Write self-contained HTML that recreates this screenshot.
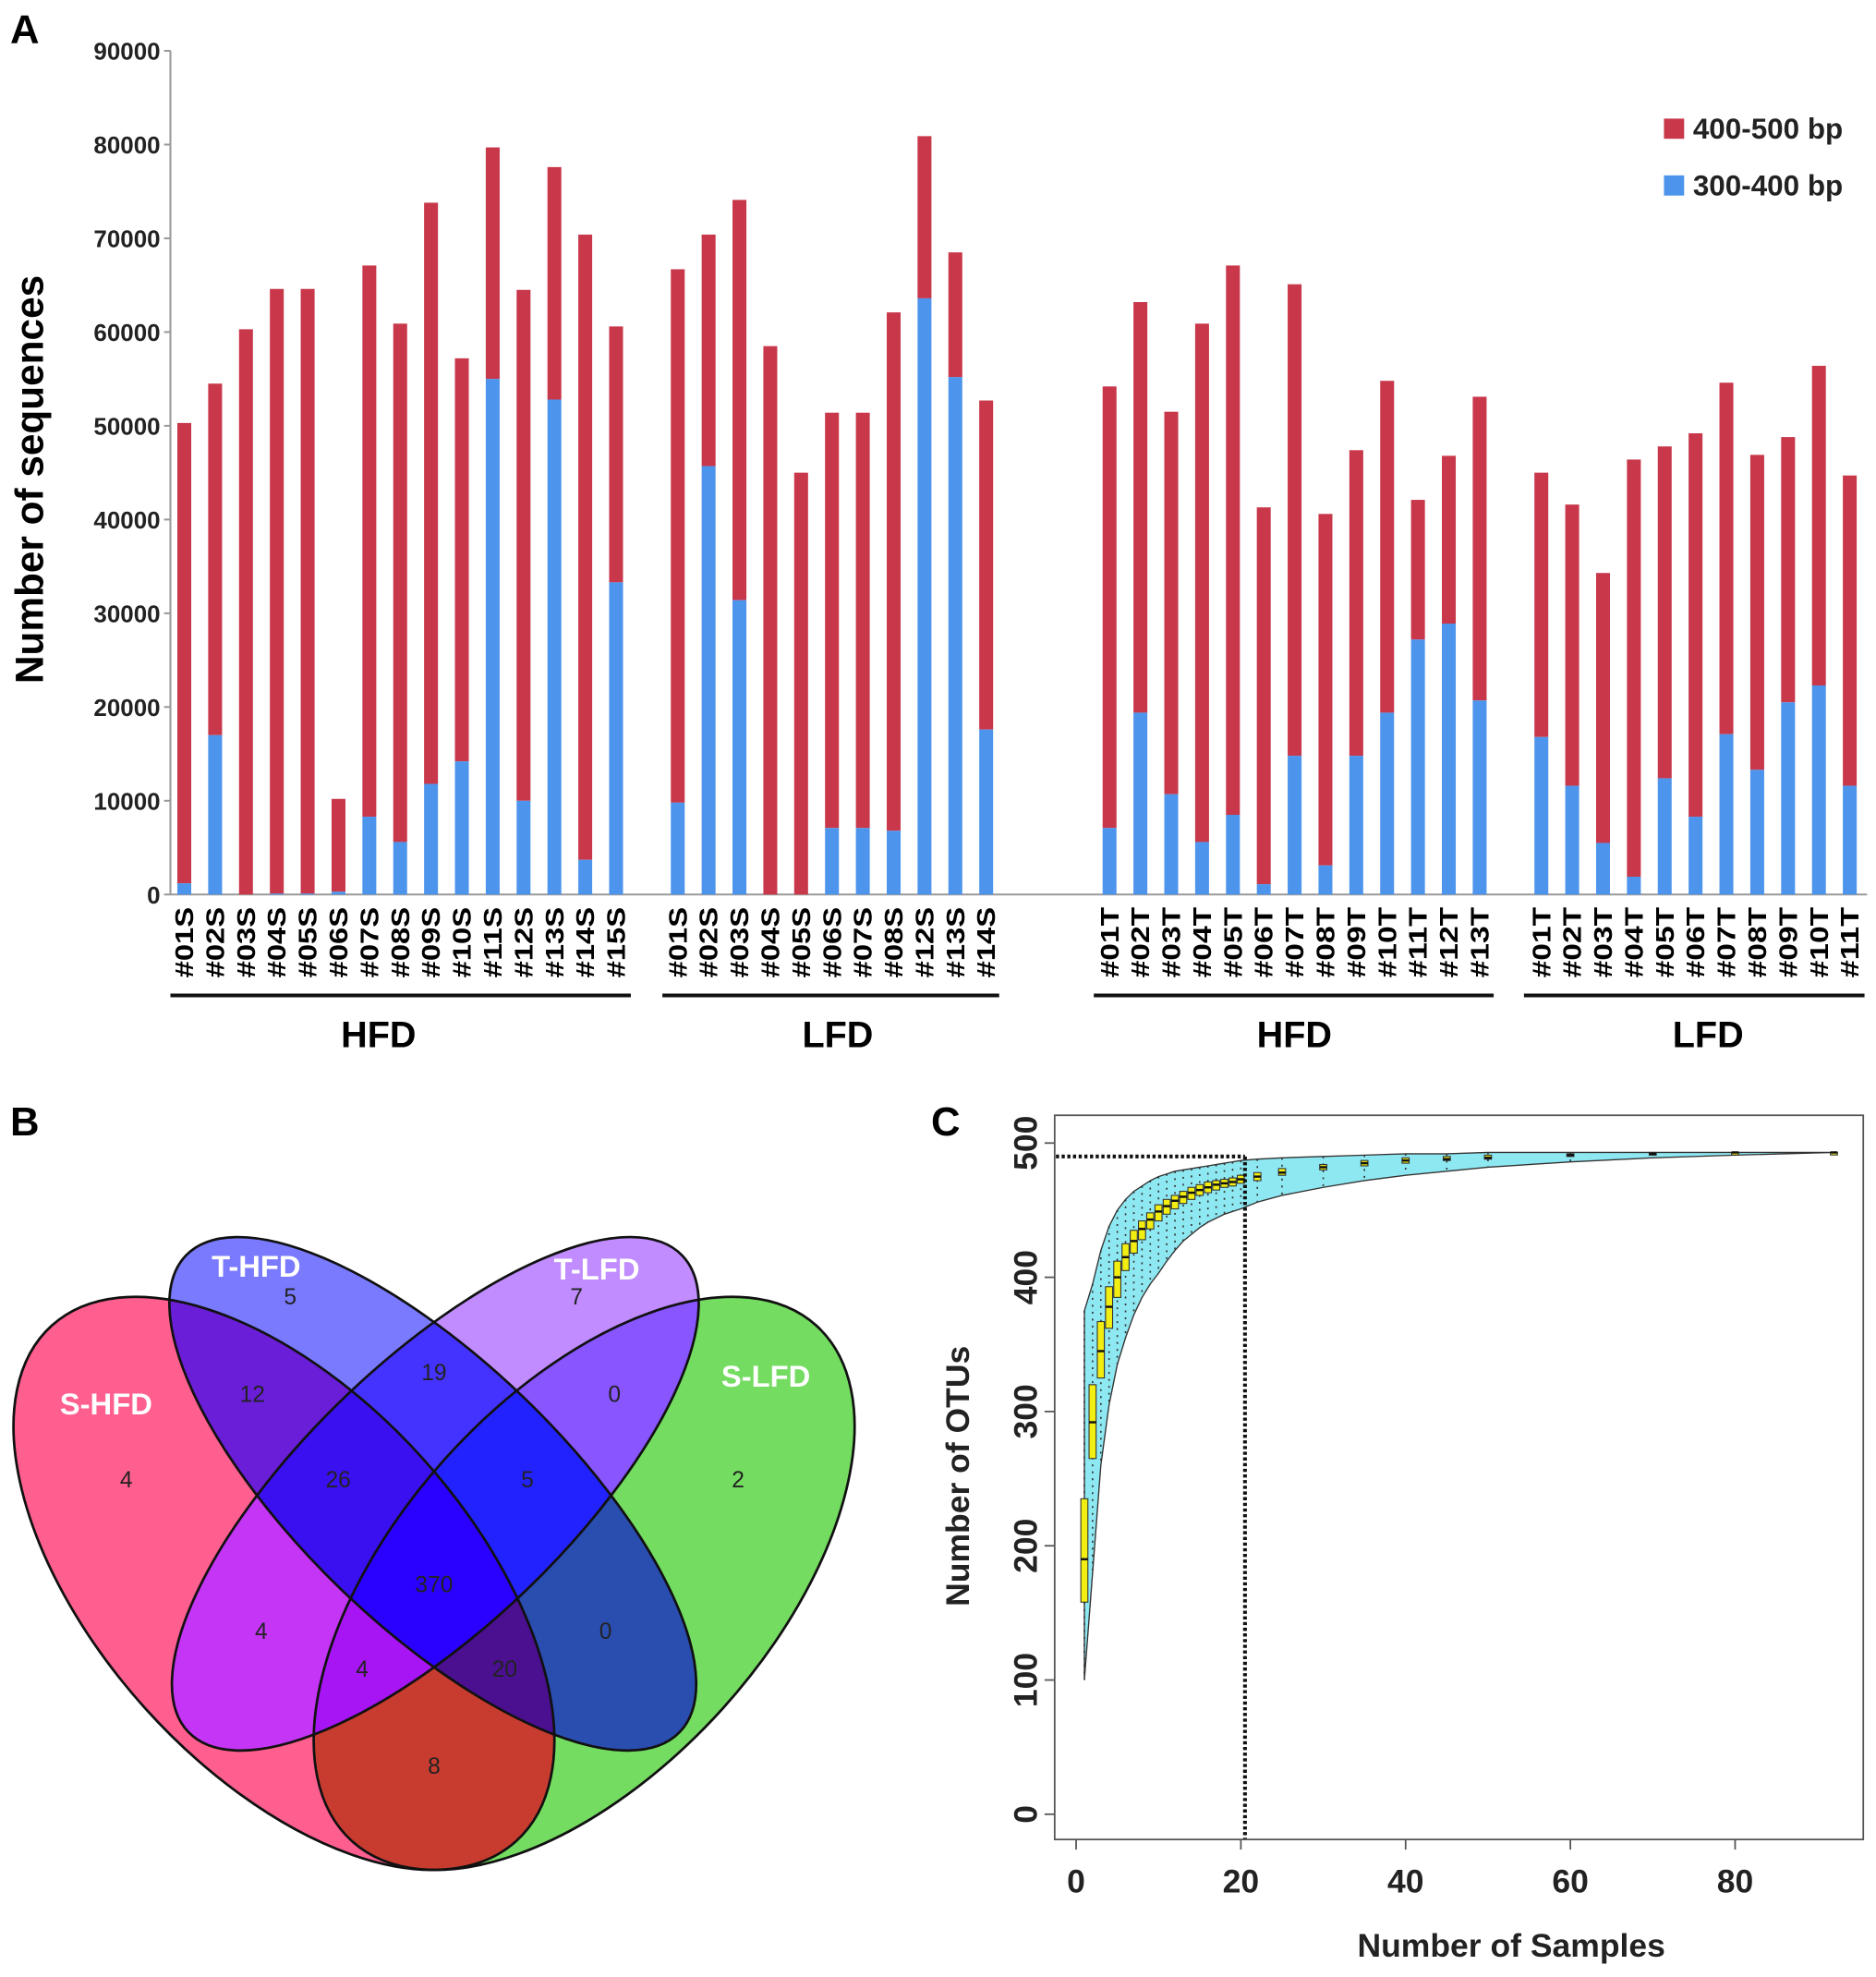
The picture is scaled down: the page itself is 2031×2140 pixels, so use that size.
<!DOCTYPE html>
<html><head><meta charset="utf-8"><style>
html,body{margin:0;padding:0;background:#fff}
svg{display:block}
text{font-family:"Liberation Sans",Arial,sans-serif}
</style></head><body>
<svg id="fig" width="2031" height="2140" viewBox="0 0 1487 1567" xmlns="http://www.w3.org/2000/svg">
<defs id="defs"></defs>
<g id="panelA"></g>
<g id="panelB"></g>
<g id="panelC"></g>
</svg>
<script>
// ---------- Panel A data ----------
const catHfdS = ["#01S","#02S","#03S","#04S","#05S","#06S","#07S","#08S","#09S","#10S","#11S","#12S","#13S","#14S","#15S"];
const totHfdS = [50300,54500,60300,64600,64600,10200,67100,60900,73800,57200,79700,64500,77600,70400,60600];
const bluHfdS = [1200,17000,0,100,100,300,8300,5600,11800,14200,55000,10000,52800,3700,33300];
const catLfdS = ["#01S","#02S","#03S","#04S","#05S","#06S","#07S","#08S","#12S","#13S","#14S"];
const totLfdS = [66700,70400,74100,58500,45000,51400,51400,62100,80900,68500,52700];
const bluLfdS = [9800,45700,31400,0,0,7100,7100,6800,63600,55200,17600];
const catHfdT = ["#01T","#02T","#03T","#04T","#05T","#06T","#07T","#08T","#09T","#10T","#11T","#12T","#13T"];
const totHfdT = [54200,63200,51500,60900,67100,41300,65100,40600,47400,54800,42100,46800,53100];
const bluHfdT = [7100,19400,10700,5600,8500,1100,14800,3100,14800,19400,27200,28900,20700];
const catLfdT = ["#01T","#02T","#03T","#04T","#05T","#06T","#07T","#08T","#09T","#10T","#11T"];
const totLfdT = [45000,41600,34300,46400,47800,49200,54600,46900,48800,56400,44700];
const bluLfdT = [16800,11600,5500,1900,12400,8300,17100,13300,20500,22300,11600];
const groupNames = ["HFD","LFD","HFD","LFD"];
const yTicksA = [0,10000,20000,30000,40000,50000,60000,70000,80000,90000];

// ---------- Panel C data ----------
const cN   = [1,2,3,4,5,6,7,8,9,10,11,12,13,14,15,16,17,18,19,20,22,25,30,35,40,45,50,60,70,80,92];
const cMed = [190,292,345,378,400,415,427,436,443,449,453,457,460,463,465,467,469,470,471,473,475,478,482,485,487,488,489,491,492,493,493];
const cQ1  = [158,265,325,362,385,405,418,428,436,442,447,451,455,458,461,463,465,467,468,470,472,476,480,483,485,487,488,490,491,492,493];
const cQ3  = [235,320,367,393,412,425,435,442,448,454,458,461,464,467,469,471,472,473,474,476,478,481,484,487,489,490,491,492,493,493,493];
const cLo  = [100,180,260,305,335,355,372,385,395,403,412,420,427,432,437,441,444,447,449,451,456,461,467,472,476,479,482,486,489,491,493];
const cHi  = [375,395,420,438,450,458,464,468,472,475,477,479,480,481,482,483,484,485,486,487,488,489,490,491,492,492,493,493,493,493,493];
const xTicksC = [0,20,40,60,80];
const yTicksC = [0,100,200,300,400,500];

// ---------- Panel B data ----------
const vennSets = ["S-HFD","T-HFD","T-LFD","S-LFD"];
const vennCounts = [5,7,12,19,0,4,26,5,2,370,4,0,4,20,8];

const NS="http://www.w3.org/2000/svg";
function mk(parent,tag,attrs,txt){const e=document.createElementNS(NS,tag);for(const k in attrs)e.setAttribute(k,attrs[k]);if(txt!==undefined)e.textContent=txt;parent.appendChild(e);return e;}

// ===== Panel A =====
(function(){
const g=document.getElementById('panelA');
const y0=709, pxPer=74.3/10000, ax=135;
const yS=v=>y0-v*pxPer;
const xS=i=>146+24.45*i;
let t=mk(g,'text',{x:8,y:34,'font-size':32,'font-weight':'bold'},'A');


let l=mk(g,'line',{x1:ax,y1:yS(90000),x2:ax,y2:y0,stroke:'#999','stroke-width':1.5});


l=mk(g,'line',{x1:ax,y1:y0,x2:1480,y2:y0,stroke:'#999','stroke-width':1.5});


yTicksA.forEach(v=>{
 const tk=mk(g,'line',{x1:ax-5,y1:yS(v),x2:ax,y2:yS(v),stroke:'#999','stroke-width':1.5});
 
 
 const tl=mk(g,'text',{x:ax-8,y:yS(v)+7,'font-size':19,'font-weight':'bold','text-anchor':'end',fill:'#222'},String(v));
 
 
});
t=mk(g,'text',{x:0,y:0,'font-size':31,'font-weight':'bold','text-anchor':'middle',transform:'translate(34,380) rotate(-90)'},'Number of sequences');


const groups=[[catHfdS,totHfdS,bluHfdS,0],[catLfdS,totLfdS,bluLfdS,16],[catHfdT,totHfdT,bluHfdT,30],[catLfdT,totLfdT,bluLfdT,44]];
const lineEx=[[135,500],[525,792],[867,1184],[1208,1478]];
const labX=[300,664,1026,1354];
groups.forEach((gr,gi)=>{
 const [cats,tots,blus,off]=gr;
 cats.forEach((c,i)=>{
  const cx=xS(off+i), w=11;
  const r=mk(g,'rect',{x:cx-w/2,y:yS(tots[i]),width:w,height:yS(blus[i])-yS(tots[i]),fill:'#c8374a'});
  
  
  const b=mk(g,'rect',{x:cx-w/2,y:yS(blus[i]),width:w,height:y0-yS(blus[i]),fill:'#4d94ec'});
  
  
  const lb=mk(g,'text',{x:0,y:0,'font-size':20,'font-weight':'bold','text-anchor':'end',textLength:56,lengthAdjust:'spacingAndGlyphs',transform:`translate(${cx+7},719) rotate(-90)`},c);
  
  
 });
 const gl=mk(g,'line',{x1:lineEx[gi][0],y1:789,x2:lineEx[gi][1],y2:789,stroke:'#111','stroke-width':3});
 
 
 const gt=mk(g,'text',{x:labX[gi],y:830,'font-size':29,'font-weight':'bold','text-anchor':'middle'},groupNames[gi]);
 
 
});
const leg=[["400-500 bp","#c8374a",94],["300-400 bp","#4d94ec",139]];
leg.forEach(le=>{
 const s=mk(g,'rect',{x:1319,y:le[2],width:16,height:16,fill:le[1]});
 
 
 const tt=mk(g,'text',{x:1342,y:le[2]+16,'font-size':23,'font-weight':'bold',fill:'#222'},le[0]);
 
 
});
})();

// ===== Panel B =====
(function(){
const g=document.getElementById('panelB');
const defs=document.getElementById('defs');
let t=mk(g,'text',{x:8,y:900,'font-size':32,'font-weight':'bold'},'B');


const v=mk(g,'g',{});


const E={
 SH:{cx:225,cy:1255,rx:275,ry:148,a:48,fill:'#ff5f8f'},
 SL:{cx:463,cy:1255,rx:275,ry:148,a:-48,fill:'#74dc60'},
 TH:{cx:343,cy:1184,rx:272,ry:105,a:44,fill:'#7a7aff'},
 TL:{cx:345,cy:1184,rx:272,ry:105,a:-44,fill:'#c08cff'}
};
const ellAttrs=e=>({cx:e.cx,cy:e.cy,rx:e.rx,ry:e.ry,transform:`rotate(${e.a} ${e.cx} ${e.cy})`});
for(const k in E){
 const cp=mk(defs,'clipPath',{id:'cp'+k});
 mk(cp,'ellipse',ellAttrs(E[k]));
}
const names={SH:'s-hfd-ellipse',SL:'s-lfd-ellipse',TH:'t-hfd-ellipse',TL:'t-lfd-ellipse'};
['SH','SL','TH','TL'].forEach(k=>{
 const a=ellAttrs(E[k]); a.fill=E[k].fill;
 const el=mk(v,'ellipse',a);
 
 
});
const inter=[
 [['SH','SL'],'#c83c30'],
 [['TH','TL'],'#4433ff'],
 [['SH','TH'],'#6a1ed8'],
 [['SH','TL'],'#c535f5'],
 [['SL','TL'],'#8855ff'],
 [['SL','TH'],'#2a4db0'],
 [['SH','SL','TL'],'#a815f5'],
 [['SH','SL','TH'],'#4a1090'],
 [['SH','TH','TL'],'#3a10f0'],
 [['SL','TH','TL'],'#2222ff'],
 [['SH','SL','TH','TL'],'#2a00ff']
];
inter.forEach(it=>{
 const [ks,col]=it;
 let parent=v;
 for(let i=0;i<ks.length-1;i++){ parent=mk(parent,'g',{'clip-path':'url(#cp'+ks[i]+')'}); }
 const a=ellAttrs(E[ks[ks.length-1]]); a.fill=col;
 const el=mk(parent,'ellipse',a);
 
 
});
['SH','SL','TH','TL'].forEach(k=>{
 const a=ellAttrs(E[k]); a.fill='none'; a.stroke='#111'; a['stroke-width']=2;
 const el=mk(v,'ellipse',a);
 
 
});
const setPos=[[84,1121],[203,1012],[473,1014],[607,1099]];
vennSets.forEach((s,i)=>{
 const tt=mk(v,'text',{x:setPos[i][0],y:setPos[i][1],'font-size':24,'font-weight':'bold',fill:'#fff','text-anchor':'middle'},s);
 
 
});
const cPos=[[230,1028],[457,1028],[200,1105],[344,1088],[487,1105],[100,1173],[268,1173],[418,1173],[585,1173],[344,1256],[207,1293],[480,1293],[287,1323],[400,1323],[344,1400]];
vennCounts.forEach((c,i)=>{
 const tt=mk(v,'text',{x:cPos[i][0],y:cPos[i][1]+6,'font-size':18,'font-family':'Liberation Serif, serif',fill:'#222','text-anchor':'middle'},String(c));
 
 
});
})();

// ===== Panel C =====
(function(){
const g=document.getElementById('panelC');
const xS=n=>853+n*6.53, yS=v=>1438-v*1.064;
let t=mk(g,'text',{x:738,y:900,'font-size':32,'font-weight':'bold'},'C');


let d='M'+cN.map((n,i)=>xS(n)+','+yS(cHi[i])).join(' L')+' L'+cN.slice().reverse().map((n,j)=>{const i=cN.length-1-j;return xS(n)+','+yS(cLo[i]);}).join(' L')+' Z';
const band=mk(g,'path',{d:d,fill:'#8ee8f2',stroke:'#333','stroke-width':1});


cN.forEach((n,i)=>{
 const w=mk(g,'line',{x1:xS(n),y1:yS(cHi[i]),x2:xS(n),y2:yS(cLo[i]),stroke:'#333','stroke-width':1.2,'stroke-dasharray':'1.5,4'});
 
 
});
cN.forEach((n,i)=>{
 const b=mk(g,'rect',{x:xS(n)-2.8,y:yS(cQ3[i]),width:5.6,height:Math.max(2,yS(cQ1[i])-yS(cQ3[i])),fill:'#f2ee12',stroke:'#333','stroke-width':0.8});
 
 
 const m=mk(g,'line',{x1:xS(n)-2.8,y1:yS(cMed[i]),x2:xS(n)+2.8,y2:yS(cMed[i]),stroke:'#111','stroke-width':1.8});
 
 
});
let l=mk(g,'line',{x1:837,y1:yS(490),x2:xS(20.5),y2:yS(490),stroke:'#111','stroke-width':3,'stroke-dasharray':'2.5,2'});


l=mk(g,'line',{x1:xS(20.5),y1:yS(490),x2:xS(20.5),y2:1458,stroke:'#111','stroke-width':3,'stroke-dasharray':'2.5,2'});


const fr=mk(g,'rect',{x:836,y:884,width:641,height:574,fill:'none',stroke:'#555','stroke-width':1.3});


xTicksC.forEach(v=>{
 const tk=mk(g,'line',{x1:xS(v),y1:1458,x2:xS(v),y2:1466,stroke:'#555','stroke-width':1.3});
 
 
 const tl=mk(g,'text',{x:xS(v),y:1500,'font-size':26,'font-weight':'bold','text-anchor':'middle',fill:'#222'},String(v));
 
 
});
yTicksC.forEach(v=>{
 const tk=mk(g,'line',{x1:828,y1:yS(v),x2:836,y2:yS(v),stroke:'#555','stroke-width':1.3});
 
 
 const tl=mk(g,'text',{x:0,y:0,'font-size':26,'font-weight':'bold','text-anchor':'middle',fill:'#222',transform:`translate(822,${yS(v)}) rotate(-90)`},String(v));
 
 
});
t=mk(g,'text',{x:0,y:0,'font-size':26,'font-weight':'bold','text-anchor':'middle',fill:'#222',transform:'translate(768,1170) rotate(-90)'},'Number of OTUs');


t=mk(g,'text',{x:1198,y:1551,'font-size':26,'font-weight':'bold','text-anchor':'middle',fill:'#222'},'Number of Samples');


})();
</script>
</body></html>
